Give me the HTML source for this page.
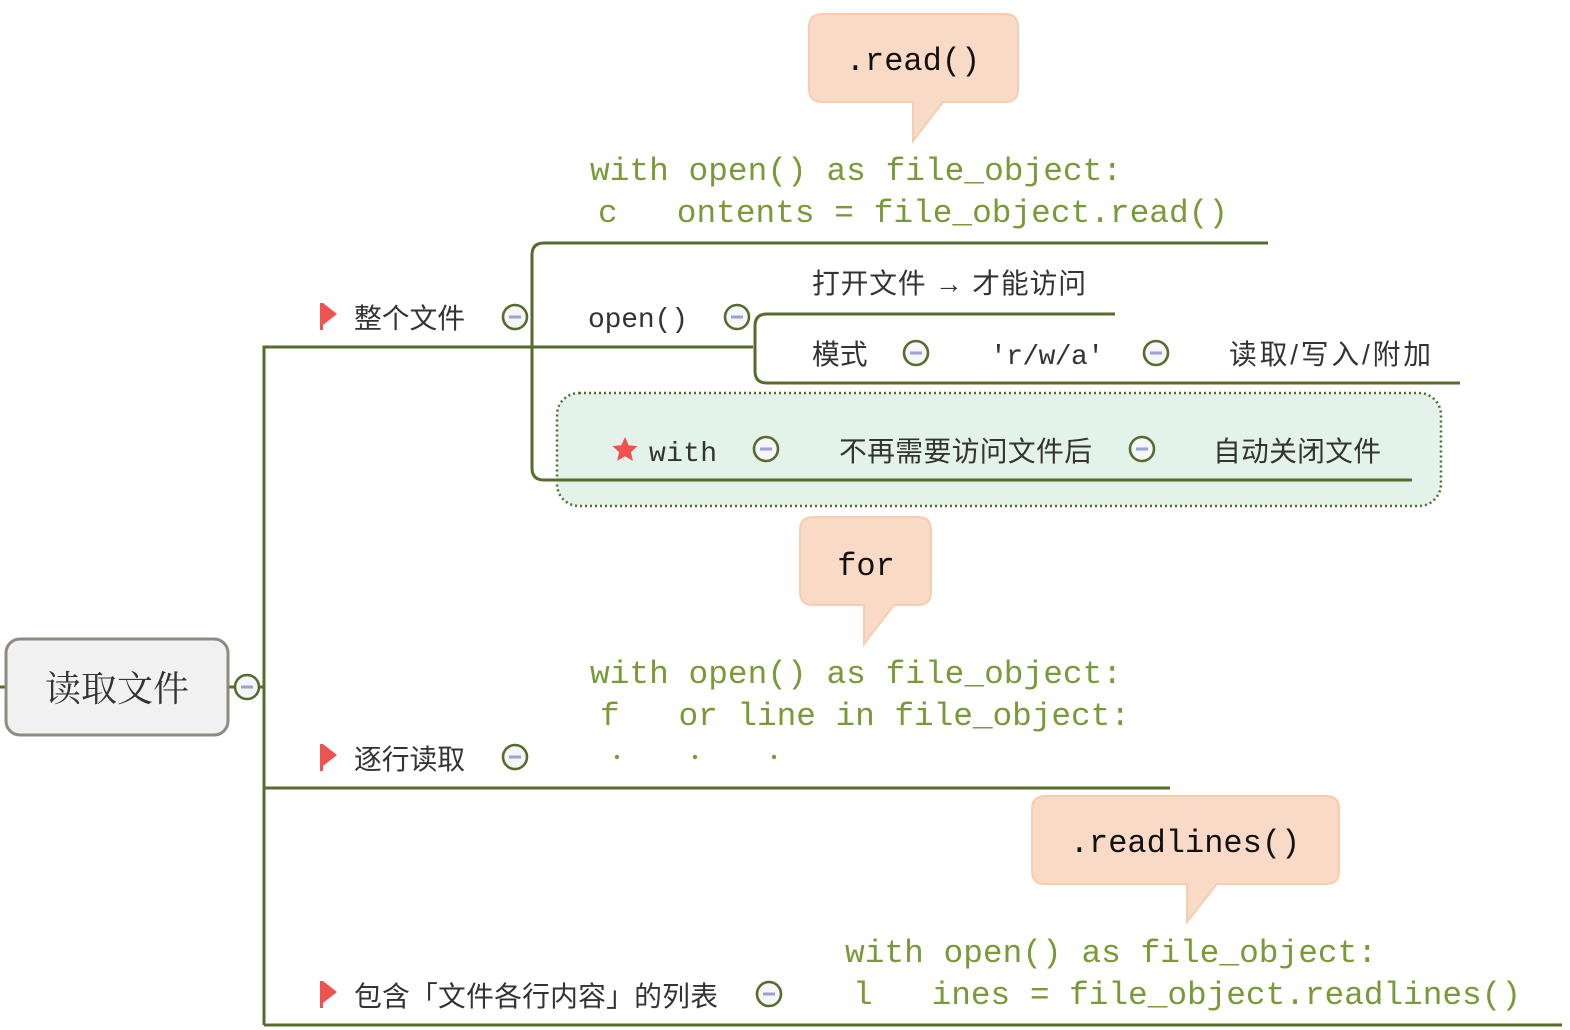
<!DOCTYPE html>
<html><head><meta charset="utf-8"><style>
html,body{margin:0;padding:0;background:#fff;width:1570px;height:1030px;overflow:hidden}
svg{display:block}
.lab{font-family:"Liberation Sans","Noto Sans CJK SC",sans-serif;font-size:27.8px;fill:#333}
.mono{font-family:"Liberation Mono","DejaVu Sans Mono",monospace;font-size:28px;fill:#333}
.code{font-family:"Liberation Mono","DejaVu Sans Mono",monospace;font-size:32.8px;fill:#7a9a3a;white-space:pre}
.call{font-family:"Liberation Mono","DejaVu Sans Mono",monospace;font-size:32px;fill:#111}
</style></head><body>
<svg width="1570" height="1030" viewBox="0 0 1570 1030" xmlns="http://www.w3.org/2000/svg">
<defs>
<g id="c"><circle r="12" fill="#f6f6fa" stroke="#566b2c" stroke-width="2.6"/><rect x="-6" y="-1.5" width="12" height="3" fill="#99a3cc"/></g>
</defs>
<rect x="557" y="393" width="884" height="113" rx="22" fill="#e4f3ea" stroke="#566b2c" stroke-width="2.5" stroke-dasharray="2,3"/>
<g fill="none" stroke="#566b2c" stroke-width="3">
<path d="M0 687 H6"/>
<path d="M228 687 H264"/>
<path d="M264 1025 V347 H753"/>
<path d="M264 788 H1170"/>
<path d="M264 1025 H1562"/>
<path d="M1268 243 H544 Q532 243 532 255 V468 Q532 480 544 480 H1412"/>
<path d="M1115 314 H767 Q755 314 755 326 V371 Q755 383 767 383 H1460"/>
</g>
<rect x="6" y="639" width="222" height="96" rx="14" fill="#f1f1f1" stroke="#8f8a82" stroke-width="3"/>
<text x="117" y="701" text-anchor="middle" style="font-family:'Noto Serif CJK SC','Liberation Serif',serif;font-size:36px;fill:#333">读取文件</text>
<use href="#c" x="247" y="687"/>
<use href="#c" x="515" y="317"/>
<use href="#c" x="737" y="317"/>
<use href="#c" x="916" y="353"/>
<use href="#c" x="1156" y="353"/>
<use href="#c" x="766" y="449"/>
<use href="#c" x="1142" y="449"/>
<use href="#c" x="515" y="757"/>
<use href="#c" x="769" y="994"/>
<g fill="#ee5350">
<path d="M320 303 h3 v27 h-3z M323 303 l14 11 l-14 11z"/>
<path d="M320 744 h3 v27 h-3z M323 744 l14 11 l-14 11z"/>
<path d="M320 981 h3 v27 h-3z M323 981 l14 11 l-14 11z"/>
<path d="M625 437 l3.7 8.2 8.9 0.9 -6.7 6 2 8.8 -7.9 -4.6 -7.9 4.6 2 -8.8 -6.7 -6 8.9 -0.9z"/>
</g>
<text class="lab" x="354" y="328" textLength="111">整个文件</text>
<text class="mono" x="588" y="327" textLength="100">open()</text>
<text class="lab" x="812" y="293" textLength="274">打开文件 → 才能访问</text>
<text class="lab" x="812" y="364">模式</text>
<text class="mono" x="990" y="364" textLength="114">'r/w/a'</text>
<text class="lab" x="1229" y="364" textLength="202">读取/写入/附加</text>
<text class="mono" x="649" y="461" textLength="68">with</text>
<text class="lab" x="839" y="461" textLength="253">不再需要访问文件后</text>
<text class="lab" x="1213" y="461" textLength="168">自动关闭文件</text>
<text class="lab" x="354" y="769" textLength="111">逐行读取</text>
<text class="lab" x="354" y="1006" textLength="364">包含「文件各行内容」的列表</text>
<text class="code" x="590" y="180" textLength="532">with open() as file_object:</text>
<text class="code" x="598" y="222" xml:space="preserve" textLength="630">c   ontents = file_object.read()</text>
<text class="code" x="590" y="683" textLength="532">with open() as file_object:</text>
<text class="code" x="600" y="725" xml:space="preserve" textLength="530">f   or line in file_object:</text>
<g fill="#7a9a3a"><circle cx="617" cy="757" r="2.2"/><circle cx="695" cy="757" r="2.2"/><circle cx="774" cy="757" r="2.2"/></g>
<text class="code" x="845" y="962" textLength="532">with open() as file_object:</text>
<text class="code" x="853" y="1004" xml:space="preserve" textLength="668">l   ines = file_object.readlines()</text>
<g fill="#f8dac6" stroke="#f7cdb1" stroke-width="2">
<path d="M823 14 H1005 Q1018 14 1018 27 V89 Q1018 102 1005 102 H943 L913 141 V102 H822 Q809 102 809 89 V27 Q809 14 823 14Z"/>
<path d="M814 517 H918 Q931 517 931 530 V592 Q931 605 918 605 H894 L864 644 V605 H813 Q800 605 800 592 V530 Q800 517 814 517Z"/>
<path d="M1046 796 H1326 Q1339 796 1339 809 V871 Q1339 884 1326 884 H1217 L1187 922 V884 H1045 Q1032 884 1032 871 V809 Q1032 796 1046 796Z"/>
</g>
<text class="call" x="913" y="70" text-anchor="middle">.read()</text>
<text class="call" x="866" y="575" text-anchor="middle">for</text>
<text class="call" x="1185" y="852" text-anchor="middle">.readlines()</text>
</svg>
</body></html>
